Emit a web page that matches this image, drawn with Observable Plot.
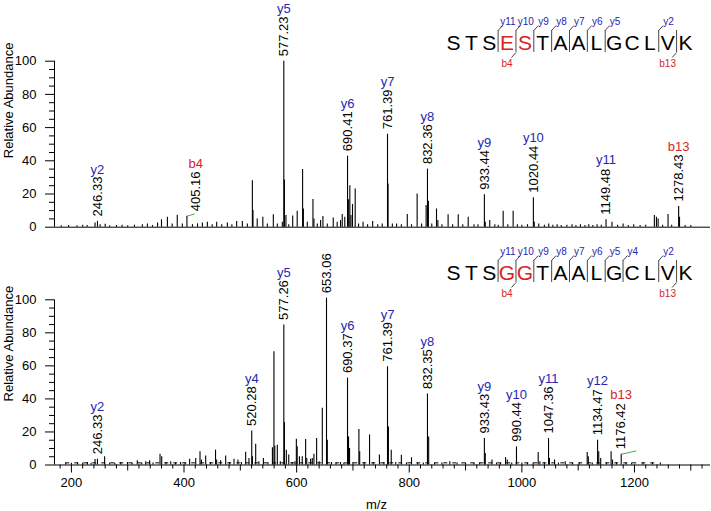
<!DOCTYPE html>
<html><head><meta charset="utf-8">
<script src="https://cdn.jsdelivr.net/npm/d3@7"></script>
<script src="https://cdn.jsdelivr.net/npm/@observablehq/plot@0.6"></script>
<style>
body{margin:0;background:#fff;}
#wrap{position:relative;width:711px;height:511px;overflow:hidden;}
.panel{position:relative;width:711px;}
.panel svg{display:block;}
.seq{position:absolute;left:425px;}
</style></head><body><div id="wrap"></div>
<script>
// ---------- data: top spectrum (STSESTAALGCLVK) ----------
const mzTop = [182,195,210,220,228,242,246.33,251,260,268,280,290,300,312,326,335,344,353,360,370.5,379,388,397,405.16,415,424,432.6,441.5,450,458,467,477,485,493.5,503.6,512.5,521.4,522.5,530,540,548,558.6,565.7,574.6,577.23,578.3,581,586,593,601,610.6,612,619,629,630.7,636.7,642.6,646.7,654.5,665,672,678,681,685.5,690.41,692.4,694.5,696.5,699.2,704,710,718,726,735,744,752,761.39,762.4,770,777.5,786,796.5,804,814,822,830,832.36,834,840,848.4,850.8,858,869,877,887,895,904.7,915,922,933.44,935,943,952,958,966.8,975,984.5,992,1000,1010,1020.44,1022,1030,1040,1047.7,1055,1062.6,1070,1080,1089,1096,1104,1112,1118.8,1126,1133.6,1141,1149.48,1160,1170,1179.8,1189,1198.6,1210,1220,1235.3,1239,1242,1250,1259.6,1266,1278.43,1280,1290,1300];
const intTop = [0.8,1,0.8,1.2,1,2.5,3.5,1.5,1.8,0.8,1,1.2,0.8,1.2,1.5,2,1,2.5,4.5,6,2,7.2,2,6.6,1.5,2,2.5,3,1.5,3,1.5,2.5,1.5,3.5,3.5,2,28,10,5,6,2,7.5,2,3,100,28.5,7,1.5,6.8,9.6,34.7,11,3,16.7,5,2,4,6.4,2,5.5,3,4,7.6,6,42.8,16.5,25,7,13.7,23,2,3,1.5,3.5,1.5,2,56,26,2,2,1.5,7.6,1.5,20,2,13,35,15.7,2,11,4,1.5,7.5,1.5,7.5,1.5,6,1.5,1.5,19.5,3,4,1.5,1.2,9.6,1.5,9.6,1.5,1.2,1.5,17.8,3,2,1.2,2,1.2,1.5,1,1.2,1.5,1,1.5,1,1.5,1,1.5,1.2,4.5,3,1.2,2,1,1.5,1,1.2,7,6,5,1.2,7.7,1.2,12.5,6,1,1];
const ionMzTop   = [246.33,405.16,577.23,690.41,761.39,832.36,933.44,1020.44,1149.48,1278.43];
const ionValTop  = [3.5,6.6,100,42.8,56,35,19.5,17.8,4.5,12.5];
const ionNameTop = ["y2","b4","y5","y6","y7","y8","y9","y10","y11","b13"];
const ionLabelMzTop = [246.33,421,577.23,690.41,761.39,832.36,933.44,1020.44,1149.48,1278.43];
const leaderTop = {x1:[405.16], y1:[6.6], x2:[419], y2:[8]};

// ---------- data: bottom spectrum (STSGGTAALGCLVK) ----------
const mzBot = [190,200,211,220,228.5,235,242,246.33,259,268,277,287.7,299.6,308,317,325,332,339,345,357.4,360.4,368,376.4,385,394,402,410,420.8,428.4,431,438.5,447,456,458,465,474,481,488.8,495.8,502,509.5,515.4,520.28,521.5,527.3,533,541,549,557,559.7,561.2,565.7,571,577.26,578.3,581.7,586,592,597,599.5,601,605,610,616,618,624.8,627.8,630.7,635.5,640,645.6,653.06,654.5,662,670,678,684,690.37,692.2,694,700,710.6,712,720,729.5,736,747,755,761.39,763,768,776,786,795,804,815,825,832.35,834.5,845,858,872,885,900,915,925,933.43,935,947,955,962,971,974,982,990.44,1000,1010,1020,1029,1032,1040,1047.36,1049,1058,1065,1077,1090,1102,1116,1118,1125,1134.47,1136.5,1140,1150,1158.5,1161,1168,1176.42,1185,1195,1215,1232,1246];
const intBot = [1.2,1,1.2,1,1.5,1,3.4,3.5,5,1.2,1,1.5,1.5,1,2.5,1.2,2,2.5,1.2,6.5,5,1.5,2,1.2,1.5,1.2,3.5,4,8,3,5.5,1.5,9,3,2.5,5.5,1.5,3.5,3,1.5,7.7,4,20.6,5,12.5,2,4,1.5,10.5,68.6,11.5,12,2,84.8,25.7,9,6,1.5,2,15.6,11,5,5,15.5,4,3.5,4,6.5,16,2,34.4,101,15,1.5,1.2,1.5,1.2,52.6,17,10,1.5,21.5,8,1.5,18.2,1.5,6,1.5,59.5,23,9,1.5,5.9,1.2,4.4,1.2,1.2,43,17,1.2,1.2,2,1.2,1.2,1.2,1.2,16,7,3,1.2,1.2,4.5,3,1.2,11,1.2,1.2,1.2,7.5,2,1.2,16,4,3,1.2,2,1.2,1.2,7.5,5,1.2,15,8,4,1.2,8,3,1.2,6.5,1.2,1.2,1.2,1.2,1.2];
const ionMzBot   = [246.33,520.28,577.26,653.06,690.37,761.39,832.35,933.43,990.44,1047.36,1134.47,1176.42];
const ionValBot  = [3.5,20.6,84.8,101,52.6,59.5,43,16,11,16,15,6.5];
const ionNameBot = ["y2","y4","y5","","y6","y7","y8","y9","y10","y11","y12","b13"];
const ionLabelMzBot = [246.33,520.28,577.26,653.06,690.37,761.39,832.35,933.43,990.44,1047.36,1134.47,1176.42];
const leaderBot = {x1:[1176.42], y1:[6.5], x2:[1203], y2:[8.5]};
const noiseBot = {from:[190], to:[1245], level:[1.3]};

// ---------- sequences ----------
const seqTop = ["S","T","S","E","S","T","A","A","L","G","C","L","V","K"];
const seqTopRed = [3,4];
const yIonsTop = [11,10,9,8,7,6,5,2];
const bIonsTop = [4,13];
const seqBot = ["S","T","S","G","G","T","A","A","L","G","C","L","V","K"];
const seqBotRed = [3,4];
const yIonsBot = [11,10,9,8,7,6,5,4,2];
const bIonsBot = [4,13];

// ---------- axes ----------
const xDomain = [170, 1335];
const xMajor = [200,400,600,800,1000,1200];
const xMid = [300,500,700,900,1100,1300];
const xMinor = [180,220,240,260,280,320,340,360,380,420,440,460,480,520,540,560,580,620,640,660,680,720,740,760,780,820,840,860,880,920,940,960,980,1020,1040,1060,1080,1120,1140,1160,1180,1220,1240,1260,1280,1320];
const yMajor = [0,20,40,60,80,100];
const yMinor = [5,10,15,25,30,35,45,50,55,65,70,75,85,90,95];

const FONT = 'Arial, "Liberation Sans", sans-serif';
const BLUE = "#2626b0", RED = "#d42626", GREEN = "#3fae3f";
const fmt = d3.format(".2f");

function spectrum(o) {
  const peaks = o.mz.map((m, i) => ({mz: m, v: o.inten[i]}));
  const ions = o.ionMz.map((m, i) => ({mz: m, v: o.ionVal[i], lx: o.ionLabelMz[i], text: fmt(m), name: o.ionName[i]}));
  const leader = o.leader.x1.map((x, i) => ({x1: x, y1: o.leader.y1[i], x2: o.leader.x2[i], y2: o.leader.y2[i]}));
  const marks = [
    Plot.ruleY([0], {stroke: "#000", strokeWidth: 1}),
    Plot.ruleX([xDomain[0]], {y1: 0, y2: 100, stroke: "#000"}),
    Plot.axisY({ticks: yMinor, tickSize: 5, tickFormat: () => "", label: null}),
    Plot.axisY({ticks: yMajor, tickSize: 9, tickPadding: 9, tickFormat: d => String(d), label: null}),
    Plot.ruleX(peaks, {x: "mz", y1: 0, y2: "v", stroke: "#000", strokeWidth: 1.1}),
    Plot.link(leader, {x1: "x1", y1: "y1", x2: "x2", y2: "y2", stroke: GREEN, strokeWidth: 1}),
    Plot.text(ions, {x: "lx", y: "v", text: "text", rotate: -90, textAnchor: "start", lineAnchor: "middle", dy: -5, fill: "#000"})
  ];
  for (const [len, dy] of [[6, -52], [7, -59.5]]) {
    for (const [p, c] of [["y", BLUE], ["b", RED]]) {
      marks.push(Plot.text(ions.filter(d => d.name.startsWith(p) && d.text.length === len),
        {x: "lx", y: "v", text: "name", fill: c, dy, lineAnchor: "middle"}));
    }
  }
  marks.push(Plot.text(["Relative Abundance"], {text: d => d, frameAnchor: "left", rotate: -90, dx: -46, dy: o.titleDy, lineAnchor: "middle"}));
  if (o.noise) {
    marks.push(Plot.ruleY(o.noise.level, {x1: o.noise.from[0], x2: o.noise.to[0], stroke: "#000", strokeWidth: 1, strokeDasharray: "4,5"}));
  }
  if (o.showX) {
    marks.push(
      Plot.axisX({ticks: xMinor, tickSize: 4, tickFormat: () => "", label: null}),
      Plot.axisX({ticks: xMid, tickSize: 6, tickFormat: () => "", label: null}),
      Plot.axisX({ticks: xMajor, tickSize: 8, tickPadding: 5, tickFormat: d => String(d), label: null}),
      Plot.text(["m/z"], {text: d => d, frameAnchor: "bottom", dy: 40, dx: -6, lineAnchor: "middle"})
    );
  }
  return Plot.plot({
    width: 711, height: o.height,
    marginLeft: 54, marginRight: 1, marginTop: o.marginTop, marginBottom: o.marginBottom,
    x: {domain: xDomain, ...(o.showX ? {} : {axis: null})},
    y: {domain: [0, 100]},
    style: {fontFamily: FONT, fontSize: "13px", background: "transparent", color: "#000", overflow: "visible"},
    marks
  });
}

const ROW = {ylab: 11, barTop: 20, letter: 33, barBot: 42, blab: 53};
const HOOK = 0.25;
function seqPlot(seq, red, yIons, bIons) {
  const N = seq.length;
  const letters = seq.map((c, i) => ({i, c, red: red.includes(i)}));
  const ys = yIons.map(n => ({pos: N - n - 0.5, lab: "y" + n}));
  const bs = bIons.map(n => ({pos: n - 0.5, lab: "b" + n}));
  const bars = Array.from(new Set([...ys, ...bs].map(d => d.pos)));
  return Plot.plot({
    width: 280, height: 62, marginLeft: 28, marginRight: 20, marginTop: 0, marginBottom: 0,
    x: {domain: [0, N - 1], axis: null},
    y: {domain: [0, 62], range: [0, 62], axis: null},
    style: {fontFamily: FONT, background: "transparent", overflow: "visible"},
    marks: [
      Plot.ruleX(bars, {x: d => d, y1: ROW.barTop, y2: ROW.barBot, stroke: "#333", strokeWidth: 0.9}),
      Plot.link(ys, {x1: "pos", y1: ROW.barTop, x2: d => d.pos + HOOK, y2: ROW.barTop - 5, stroke: "#333", strokeWidth: 0.9}),
      Plot.link(bs, {x1: "pos", y1: ROW.barBot, x2: d => d.pos - HOOK, y2: ROW.barBot + 5, stroke: "#333", strokeWidth: 0.9}),
      Plot.text(ys, {x: d => d.pos + 0.55, y: ROW.ylab, text: "lab", fill: BLUE, fontSize: 10}),
      Plot.text(bs, {x: d => d.pos - 0.5, y: ROW.blab, text: "lab", fill: RED, fontSize: 10}),
      Plot.text(letters.filter(d => !d.red), {x: "i", y: ROW.letter, text: "c", fontSize: 21, fill: "#000"}),
      Plot.text(letters.filter(d => d.red), {x: "i", y: ROW.letter, text: "c", fontSize: 21, fill: "#dd2222"})
    ]
  });
}

const wrap = document.getElementById("wrap");
function addPanel(h, chart, seqChart, seqTopPx) {
  const p = document.createElement("div");
  p.className = "panel"; p.style.height = h + "px";
  p.appendChild(chart);
  const s = document.createElement("div");
  s.className = "seq"; s.style.top = seqTopPx + "px";
  s.appendChild(seqChart);
  p.appendChild(s);
  wrap.appendChild(p);
}

addPanel(240, spectrum({
  mz: mzTop, inten: intTop, ionMz: ionMzTop, ionVal: ionValTop, ionName: ionNameTop, ionLabelMz: ionLabelMzTop,
  leader: leaderTop, height: 240, marginTop: 60.7, marginBottom: 13.3, titleDy: 14, showX: false
}), seqPlot(seqTop, seqTopRed, yIonsTop, bIonsTop), 10);

addPanel(271, spectrum({
  mz: mzBot, inten: intBot, ionMz: ionMzBot, ionVal: ionValBot, ionName: ionNameBot, ionLabelMz: ionLabelMzBot,
  leader: leaderBot, noise: noiseBot, height: 271, marginTop: 59.3, marginBottom: 46.5, titleDy: 19, showX: true
}), seqPlot(seqBot, seqBotRed, yIonsBot, bIonsBot), 0);
</script></body></html>
